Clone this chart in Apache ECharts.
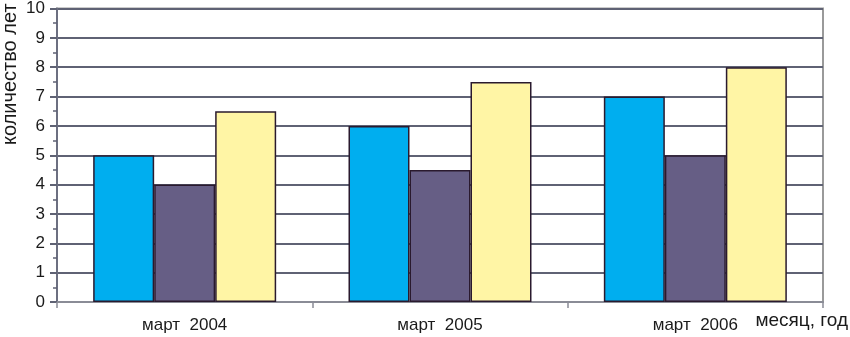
<!DOCTYPE html>
<html>
<head>
<meta charset="utf-8">
<script src="https://cdn.jsdelivr.net/npm/echarts@6/dist/echarts.min.js"></script>
<style>
  html, body { margin: 0; padding: 0; background: #fff; }
  #chart { width: 850px; height: 337px; }
</style>
</head>
<body>
<div id="chart"></div>
<script>
// категории и значения
const categories = ["март  2004", "март  2005", "март  2006"];
const seriesBlue = [5, 6, 7];
const seriesPurple = [4, 4.5, 5];
const seriesYellow = [6.5, 7.5, 8];

const myChart = echarts.init(document.getElementById("chart"));

const barBorder = { borderColor: "#2a1a2e", borderWidth: 1.5 };
const font = "Liberation Sans";

const option = {
  animation: false,
  backgroundColor: "#ffffff",
  grid: {
    left: 57,
    right: 27,
    top: 6,
    bottom: 35,
    show: true,
    borderColor: "#9a9a9a",
    borderWidth: 2,
  },
  xAxis: {
    type: "category",
    data: categories,
    axisLine: { lineStyle: { color: "#8a8c96", width: 2 } },
    axisTick: { show: true, length: 6, lineStyle: { color: "#8a8c96", width: 1.5 } },
    axisLabel: { color: "#1a1a1a", fontSize: 17, fontFamily: font, margin: 15 },
  },
  yAxis: {
    type: "value",
    min: 0,
    max: 10,
    interval: 1,
    axisLine: { show: true, lineStyle: { color: "#6c6f80", width: 2 } },
    axisTick: { show: true, length: 7, lineStyle: { color: "#5f6274", width: 2 } },
    minorTick: { show: true, splitNumber: 2, length: 4, lineStyle: { color: "#5f6274", width: 1.5 } },
    splitLine: { show: true, lineStyle: { color: "#5f6274", width: 2 } },
    axisLabel: { color: "#1a1a1a", fontSize: 17, fontFamily: font, margin: 12 },
  },
  graphic: [
    {
      type: "text",
      left: 0,
      bottom: 192,
      rotation: Math.PI / 2,
      style: {
        text: "количество лет",
        fill: "#1a1a1a",
        font: "20px " + font,
      },
    },
    {
      type: "text",
      right: 2,
      top: 311,
      style: {
        text: "месяц, год",
        fill: "#1a1a1a",
        font: "19px " + font,
      },
    },
  ],
  series: [
    {
      type: "bar",
      data: seriesBlue,
      barWidth: 61,
      barGap: "0%",
      itemStyle: Object.assign({ color: "#00aeef" }, barBorder),
    },
    {
      type: "bar",
      data: seriesPurple,
      barWidth: 61,
      barGap: "0%",
      itemStyle: Object.assign({ color: "#665e85" }, barBorder),
    },
    {
      type: "bar",
      data: seriesYellow,
      barWidth: 61,
      barGap: "0%",
      itemStyle: Object.assign({ color: "#fff5a5" }, barBorder),
    },
  ],
};

myChart.setOption(option);
</script>
</body>
</html>
